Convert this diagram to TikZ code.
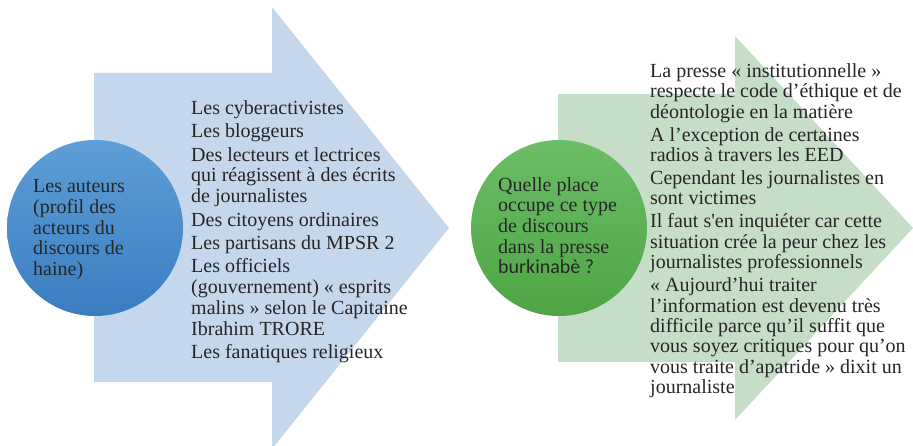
\documentclass[tikz,border=0pt]{standalone}
\usepackage{fontspec}
\setmainfont{Liberation Serif}[Ligatures=TeXOff]
\newfontfamily\calibri{Carlito}

\definecolor{ink}{HTML}{262626}
\definecolor{paleblue}{HTML}{C5D7ED}
\definecolor{palegreen}{HTML}{C6DDC8}
\definecolor{bluetop}{RGB}{94,159,216}
\definecolor{bluebot}{RGB}{58,124,192}
\definecolor{greentop}{RGB}{108,189,103}
\definecolor{greenbot}{RGB}{79,165,69}

\begin{document}
\begin{tikzpicture}[
    x=1pt, y=-1pt,
    font=\fontsize{20}{20.8}\selectfont,
    hub/.style={circle, minimum size=176pt, inner sep=0pt},
    txt/.style={anchor=north west, align=left, inner sep=0pt, text=ink},
  ]
  \useasboundingbox (0,0) rectangle (913,446);
  \clip (0,0) rectangle (913,446);

  % the two big block arrows
  \fill[paleblue] (94,73) -- (272,73) -- (272,7) -- (449,228) -- (272,449)
    -- (272,382) -- (94,382) -- cycle;
  \fill[palegreen] (558,94) -- (735,94) -- (735,36) -- (913,228) -- (735,420)
    -- (735,362) -- (558,362) -- cycle;

  % circles
  \node[hub, top color=bluetop, bottom color=bluebot] (auteurs) at (95,228) {};
  \node[hub, top color=greentop, bottom color=greenbot] (place) at (559,228) {};

  \node[txt] (auteurstxt) at (33,179.3)
    {Les auteurs\\(profil des\\acteurs du\\discours de\\haine)};
  \node[txt, font=\fontsize{20}{20.6}\selectfont] (placetxt) at (498,177.3)
    {Quelle place\\occupe ce type\\de discours\\dans la presse\\{\calibri burkinabè ?}};

  % lists
  \node[txt] (acteurs) at (191,100.3)
    {Les cyberactivistes\\[2.6pt]
     Les bloggeurs\\[2.6pt]
     Des lecteurs et lectrices\\qui réagissent à des écrits\\de journalistes\\[2.6pt]
     Des citoyens ordinaires\\[2.6pt]
     Les partisans du MPSR 2\\[2.6pt]
     Les officiels\\(gouvernement) « esprits\\malins » selon le Capitaine\\Ibrahim TRORE\\[2.6pt]
     Les fanatiques religieux};
  \node[txt, font=\fontsize{20}{20.4}\selectfont] (presse) at (650,63.3)
    {La presse « institutionnelle »\\respecte le code d’éthique et de\\déontologie en la matière\\[2.6pt]
     A l’exception de certaines\\radios à travers les EED\\[2.6pt]
     Cependant les journalistes en\\sont victimes\\[2.6pt]
     Il faut s'en inquiéter car cette\\situation crée la peur chez les\\journalistes professionnels\\[2.6pt]
     « Aujourd’hui traiter\\l’information est devenu très\\difficile parce qu’il suffit que\\vous soyez critiques pour qu’on\\vous traite d’apatride » dixit un\\journaliste};
\end{tikzpicture}
\end{document}
